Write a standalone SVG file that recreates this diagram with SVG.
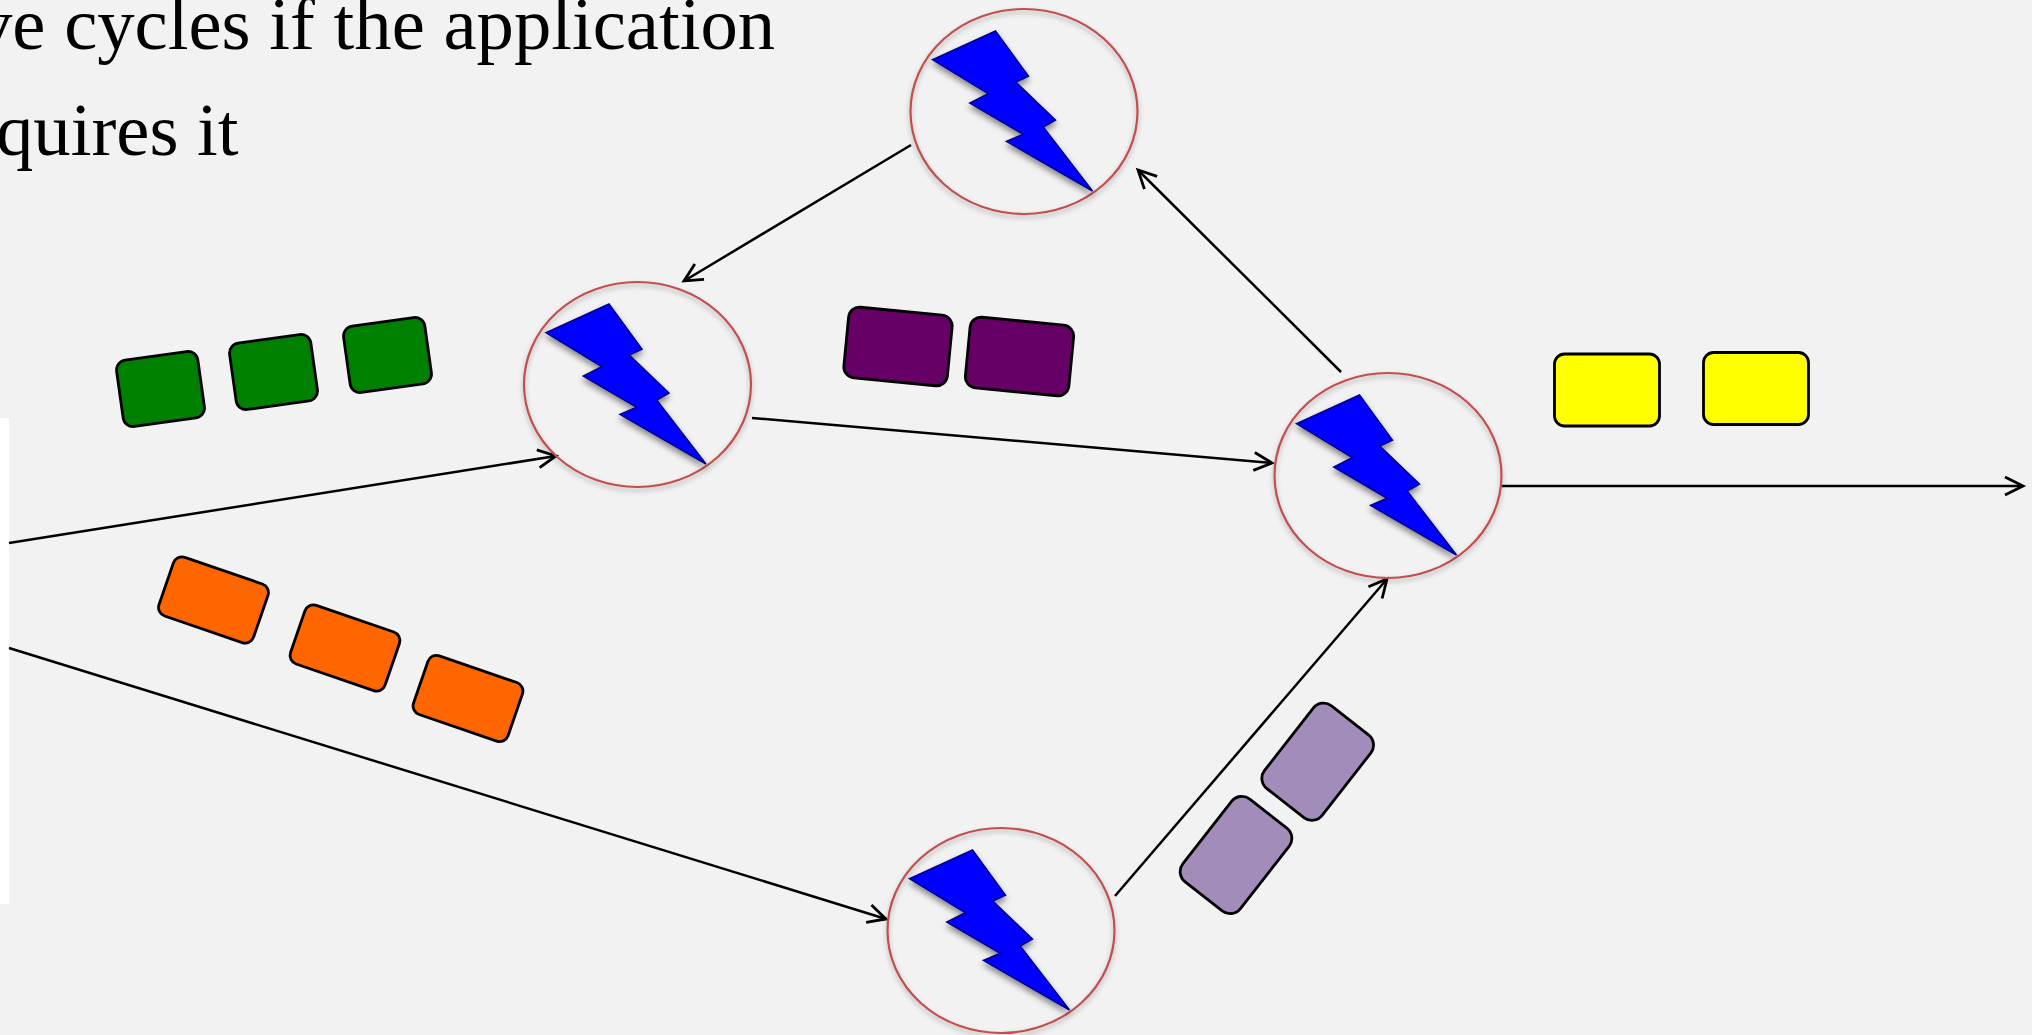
<svg xmlns="http://www.w3.org/2000/svg" xmlns:xlink="http://www.w3.org/1999/xlink" width="2032" height="1035" viewBox="0 0 2032 1035">
<style>
.t{font-family:"Liberation Serif","Times New Roman",serif;font-size:74.67px;fill:#000}
.c{fill:none;stroke:#c0504d;stroke-width:2.2;filter:url(#s)}
.b{fill:#0000ff;stroke:#00008c;stroke-width:1.5;stroke-linejoin:miter;filter:url(#s2)}
.l{fill:none;stroke:#000;stroke-width:2.5;marker-end:url(#a)}
.r{stroke:#000;stroke-width:2.8}
.g{fill:#008000}.o{fill:#ff6600}.p{fill:#660066}.y{fill:#ffff00}.v{fill:#a28cb9}
</style>
<defs>
<filter id="s" x="-10%" y="-10%" width="120%" height="120%"><feDropShadow dx="0" dy="3" stdDeviation="2.5" flood-color="#000" flood-opacity=".3"/></filter>
<filter id="s2" x="-15%" y="-15%" width="130%" height="130%"><feDropShadow dx="0" dy="4" stdDeviation="3" flood-color="#000" flood-opacity=".45"/></filter>
<marker id="a" markerUnits="userSpaceOnUse" markerWidth="26" markerHeight="26" refX="21" refY="13" orient="auto"><path d="M3 4 L21 13 L3 22" fill="none" stroke="#000" stroke-width="2.8"/></marker>
<g id="node-shape">
<ellipse class="c" rx="113.5" ry="102.5"/>
<polygon class="b" points="-91.5,-51.8 -28.5,-80.5 4.5,-35.2 -8.2,-29.5 31.5,8.5 19.2,15.5 68.5,79.5 -17.5,29.8 -0.8,22.8 -54.2,-8.5 -35.8,-17.8"/>
</g>
<rect id="rg" class="r g" x="-41" y="-33.500" width="82" height="67" rx="10"/>
<rect id="ro" class="r o" x="-50" y="-31" width="100" height="62" rx="9"/>
<rect id="rp" class="r p" x="-52" y="-35.500" width="104" height="71" rx="11"/>
<rect id="ry" class="r y" x="-52.500" y="-36" width="105" height="72" rx="10"/>
<rect id="rv" class="r v" x="-36.500" y="-52.500" width="73" height="105" rx="13"/>
</defs>
<rect width="2032" height="1035" fill="#f2f2f2"/>
<rect id="panel" x="0" y="418" width="9" height="486" fill="#fff"/>
<text class="t" x="-25" y="49">ve cycles if the application</text>
<text class="t" x="-4" y="155">quires it</text>
<g id="connectors">
<line class="l" x1="9" y1="543" x2="556" y2="456"/>
<line class="l" x1="9" y1="648" x2="886" y2="919"/>
<line class="l" x1="752" y1="418" x2="1272" y2="463"/>
<line class="l" x1="1341" y1="372" x2="1138" y2="170"/>
<line class="l" x1="911" y1="145" x2="684" y2="281"/>
<line class="l" x1="1115" y1="896" x2="1387" y2="579"/>
<line class="l" x1="1502" y1="486" x2="2023" y2="486"/>
</g>
<g id="node-left"><use xlink:href="#node-shape" href="#node-shape" x="637.5" y="384.5"/></g>
<g id="node-top"><use xlink:href="#node-shape" href="#node-shape" x="1024" y="111.500"/></g>
<g id="node-right"><use xlink:href="#node-shape" href="#node-shape" x="1388" y="475.500"/></g>
<g id="node-bottom"><use xlink:href="#node-shape" href="#node-shape" x="1001" y="930.500"/></g>
<g id="green-items">
<use href="#rg" transform="translate(160.500 389) rotate(-8)"/>
<use href="#rg" transform="translate(273.500 372) rotate(-8)"/>
<use href="#rg" transform="translate(387.500 355) rotate(-8)"/>
</g>
<g id="orange-items">
<use href="#ro" transform="translate(213.500 600) rotate(19)"/>
<use href="#ro" transform="translate(345 648) rotate(19)"/>
<use href="#ro" transform="translate(468 698.500) rotate(19)"/>
</g>
<g id="purple-items">
<use href="#rp" transform="translate(898 346.500) rotate(5.500)"/>
<use href="#rp" transform="translate(1019.500 356.500) rotate(5.500)"/>
</g>
<g id="yellow-items">
<use href="#ry" transform="translate(1607 390)"/>
<use href="#ry" transform="translate(1756 388.500)"/>
</g>
<g id="lavender-items">
<use href="#rv" transform="translate(1236 855) rotate(38)"/>
<use href="#rv" transform="translate(1317.700 761.700) rotate(38)"/>
</g>
</svg>
